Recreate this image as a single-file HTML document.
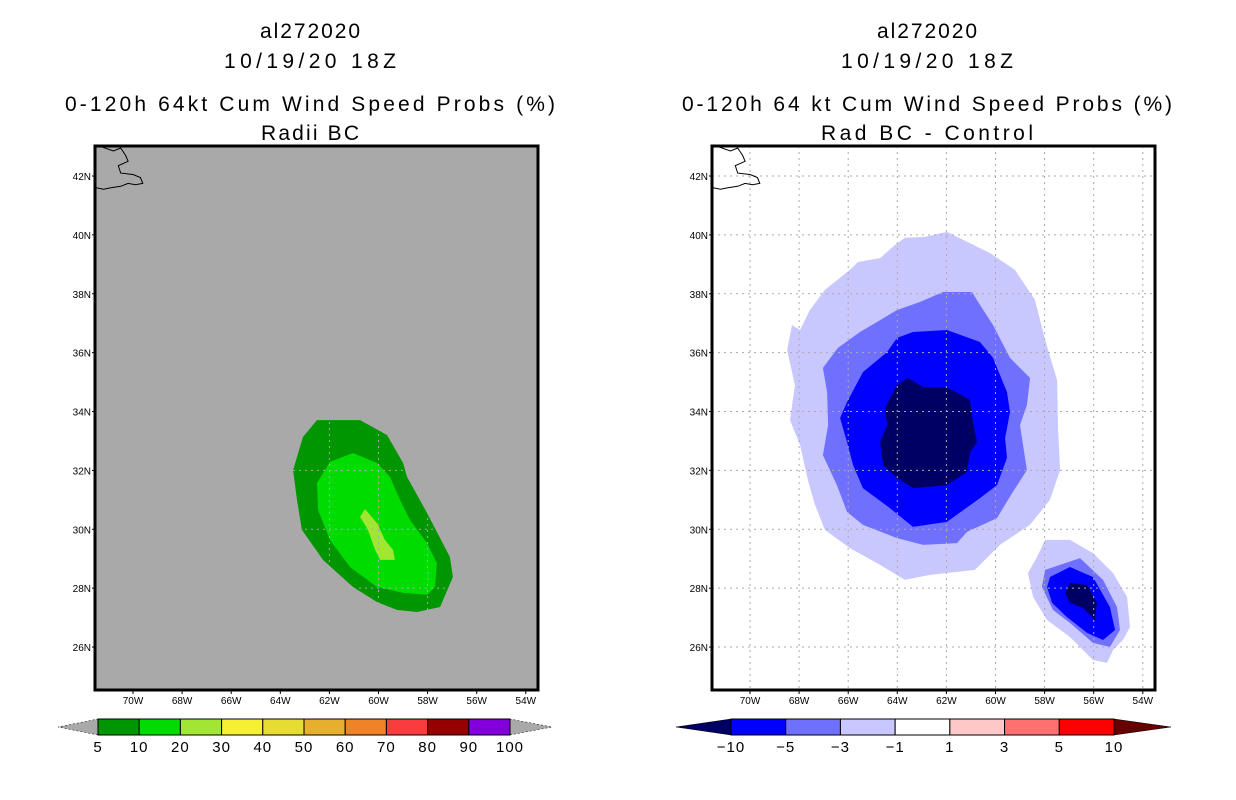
<!DOCTYPE html>
<html><head><meta charset="utf-8"><style>
html,body{margin:0;padding:0;background:#fff}
svg{display:block}
text{font-family:"Liberation Sans",sans-serif;fill:#000}
</style></head><body>
<svg id="chart" width="1236" height="800" viewBox="0 0 1236 800" xmlns="http://www.w3.org/2000/svg">
<rect width="1236" height="800" fill="#fff"/>
</svg>
<script>
// ---- data (lon in degrees W, lat in degrees N) ----
const lonTicks=[70,68,66,64,62,60,58,56,54];
const latTicks=[42,40,38,36,34,32,30,28,26];
const leftLevels=["5","10","20","30","40","50","60","70","80","90","100"];
const leftColors=["#009600","#00dc00","#a0e632","#f5f032","#e6dc32","#e6af2d","#f08228","#fa3c3c","#960000","#8200dc"];
const rightLevels=["-10","-5","-3","-1","1","3","5","10"];
const rightColors=["#0000ff","#7070ff","#c8c8ff","#ffffff","#ffc8c8","#ff7070","#ff0000"];
const green5Lon=[62.51,60.75,59.65,59.0,58.84,58.02,57.09,56.97,57.49,58.43,59.25,60.06,61.04,62.26,63.12,63.32,63.48,63.08];
const green5Lat=[33.71,33.71,33.20,32.25,31.78,30.55,29.06,28.38,27.36,27.19,27.26,27.53,28.04,28.96,29.98,30.99,32.01,33.13];
const green10Lon=[61.04,60.06,59.53,59.12,58.72,58.02,57.62,57.70,58.02,59.0,60.06,61.16,61.98,62.46,62.51,61.98];
const green10Lat=[32.59,32.25,31.78,30.99,30.32,29.53,28.85,28.04,27.77,27.84,28.04,28.72,29.64,30.65,31.57,32.29];
const green20Lon=[60.55,60.06,59.74,59.41,59.33,59.94,60.14,60.43,60.75];
const green20Lat=[30.69,30.21,29.64,29.30,28.96,28.96,29.30,29.98,30.42];
const diff1Lon=[61.98,60.22,59.21,58.39,57.98,57.49,57.45,57.37,57.78,58.6,59.82,60.84,62.67,63.69,64.7,65.93,66.95,67.35,67.64,67.96,68.37,68.17,68.49,68.29,67.96,67.56,66.95,65.93,65.6,64.7,64.09,63.69,62.87];
const diff1Lat=[40.10,39.38,38.81,37.79,36.43,35.07,33.37,32.01,31.0,30.15,29.47,28.62,28.45,28.28,28.79,29.36,29.98,30.82,31.67,32.86,33.71,34.9,36.09,36.94,36.77,37.45,38.13,38.81,39.08,39.21,39.66,39.90,39.93];
const diff3Lon=[62.14,60.96,60.63,60.10,59.41,58.59,58.72,59.0,58.72,59.29,59.94,61.16,61.57,62.95,64.01,65.40,66.05,66.46,67.03,66.82,66.86,67.03,66.42,65.52,64.01,63.08];
const diff3Lat=[38.06,38.06,37.62,36.94,35.82,35.14,34.22,33.54,32.01,31.27,30.38,29.91,29.53,29.47,29.70,30.15,30.59,31.50,32.52,33.54,34.66,35.48,36.16,36.70,37.45,37.72];
const diff5Lon=[63.36,61.98,60.63,60.10,59.53,59.41,59.61,59.53,59.94,60.63,61.98,63.36,64.30,65.40,65.80,66.05,66.33,66.05,65.40,64.42,64.01];
const diff5Lat=[36.70,36.77,36.36,35.82,34.66,33.98,33.10,32.42,31.50,31.06,30.25,30.08,30.72,31.40,32.18,32.96,33.78,34.32,35.34,36.02,36.50];
const diff10Lon=[63.56,62.95,61.98,61.04,60.92,60.75,61.04,61.16,61.98,63.36,64.01,64.58,64.70,64.42,64.50,64.01];
const diff10Lat=[35.14,34.83,34.83,34.39,33.64,32.96,32.62,31.95,31.50,31.40,31.74,32.18,32.96,33.54,34.12,34.90];
const sDiff1Lon=[57.98,56.97,56.03,55.21,54.64,54.52,54.81,55.21,55.46,56.03,56.97,57.90,58.47,58.68,58.31];
const sDiff1Lat=[29.64,29.64,29.19,28.51,27.70,26.68,26.24,25.90,25.46,25.56,26.34,26.92,27.70,28.51,29.06];
const sDiff3Lon=[57.98,56.56,55.62,55.05,54.93,55.34,56.03,56.97,57.66,58.11];
const sDiff3Lat=[28.62,29.02,28.28,27.36,26.58,26.0,26.14,26.82,27.26,28.04];
const sDiff5Lon=[57.78,56.97,56.03,55.34,55.13,55.62,56.27,57.09,57.70,57.90];
const sDiff5Lat=[28.38,28.72,28.38,27.36,26.58,26.24,26.48,27.02,27.50,28.04];
const sDiff10Lon=[56.97,56.27,55.87,55.95,56.44,56.97,57.17];
const sDiff10Lat=[28.18,28.11,27.50,26.92,27.33,27.50,27.84];

// ---- layout ----
const NS="http://www.w3.org/2000/svg";
const svg=document.getElementById('chart');
function mk(tag,attrs,parent){const e=document.createElementNS(NS,tag);for(const k in attrs)e.setAttribute(k,attrs[k]);(parent||svg).appendChild(e);return e;}
const PX_LON=24.55, PX_LAT=29.44;
function xScale(x0){return lon=>x0+(70-lon)*PX_LON;}
function yScale(lat){return 176+(42-lat)*PX_LAT;}
const coastLon=[71.3,70.8,70.5,70.3,70.2,70.6,70.5,70.0,69.7,69.6,69.9,70.2,70.5,70.9,71.2,71.5];
const coastLat=[43.0,42.85,42.95,42.7,42.5,42.35,42.1,42.05,41.95,41.75,41.7,41.75,41.65,41.6,41.55,41.6];

function panel(idx,x0,bg,titleLines,polys,levels,colors,cbBox,gridColor){
  const X=xScale(x0+38);
  const g=mk('g',{});
  
  
  const ty=[30,60,103,132];
  const tl=[100,172,490,98];
  titleLines.forEach((t,i)=>{
    const e=mk('text',{x:x0+215,y:ty[i]+8,'text-anchor':'middle','font-size':'21',textLength:(i===3&&idx===1)?212:tl[i],lengthAdjust:'spacing'},g);
    e.textContent=t;
    
    
  });
  const fx=x0, fw=443, fy=146, fh=544;
  const clip=mk('clipPath',{id:'clip'+idx},g);
  mk('rect',{x:fx,y:fy,width:fw,height:fh},clip);
  const bgR=mk('rect',{x:fx,y:fy,width:fw,height:fh,fill:bg},g);
  
  
  const cg=mk('g',{'clip-path':'url(#clip'+idx+')'},g);
  polys.forEach(p=>{
    const pts=p.lon.map((lo,i)=>X(lo).toFixed(1)+','+yScale(p.lat[i]).toFixed(1)).join(' ');
    const e=mk('polygon',{points:pts,fill:p.color},cg);
    
    
  });
  lonTicks.forEach(lo=>{
    const e=mk('line',{x1:X(lo),x2:X(lo),y1:fy,y2:fy+fh,stroke:gridColor,'stroke-width':1,'stroke-dasharray':'2,4'},cg);
    
    
  });
  latTicks.forEach(la=>{
    const e=mk('line',{x1:fx,x2:fx+fw,y1:yScale(la),y2:yScale(la),stroke:gridColor,'stroke-width':1,'stroke-dasharray':'2,4'},cg);
    
    
  });
  const cp=coastLon.map((lo,i)=>X(lo).toFixed(1)+','+yScale(coastLat[i]).toFixed(1)).join(' ');
  const coast=mk('polyline',{points:cp,fill:'none',stroke:'#000','stroke-width':1},cg);
  
  
  const fr=mk('rect',{x:fx,y:fy,width:fw,height:fh,fill:'none',stroke:'#000','stroke-width':3},g);
  
  
  lonTicks.forEach(lo=>{
    const t=mk('text',{x:X(lo),y:704,'text-anchor':'middle','font-size':'10'},g);
    t.textContent=lo+'W';
    
    
    mk('line',{x1:X(lo),x2:X(lo),y1:fy+fh,y2:fy+fh+4,stroke:'#000'},g);
  });
  latTicks.forEach(la=>{
    const t=mk('text',{x:fx-4,y:yScale(la)+4,'text-anchor':'end','font-size':'10'},g);
    t.textContent=la+'N';
    
    
    mk('line',{x1:fx-3,x2:fx,y1:yScale(la),y2:yScale(la),stroke:'#000'},g);
  });
  const cb=mk('g',{},g);
  
  
  const [bx0,bx1,lt,rt,lcol,rcol]=cbBox;
  const n=colors.length, bw=(bx1-bx0)/n, y0=719,y1=735;
  mk('polygon',{points:`${bx0},${y0} ${bx0},${y1} ${lt},${(y0+y1)/2}`,fill:lcol,stroke:'#000','stroke-width':0.5,'stroke-dasharray':idx===0?'2,2':''},cb);
  mk('polygon',{points:`${bx1},${y0} ${bx1},${y1} ${rt},${(y0+y1)/2}`,fill:rcol,stroke:'#000','stroke-width':0.5,'stroke-dasharray':idx===0?'2,2':''},cb);
  colors.forEach((c,i)=>{
    const r=mk('rect',{x:bx0+i*bw,y:y0,width:bw,height:y1-y0,fill:c,stroke:'#000','stroke-width':1},cb);
    
    
  });
  levels.forEach((l,i)=>{
    const t=mk('text',{x:bx0+i*bw,y:752,'text-anchor':'middle','font-size':'15','letter-spacing':'1'},cb);
    t.textContent=l.replace('-','\u2212');
    
    
  });
}

panel(0,95,'#a9a9a9',['al272020','10/19/20 18Z','0-120h 64kt Cum Wind Speed Probs (%)','Radii BC'],[
  {lon:green5Lon,lat:green5Lat,color:'#009600',name:'prob-5-10'},
  {lon:green10Lon,lat:green10Lat,color:'#00dc00',name:'prob-10-20'},
  {lon:green20Lon,lat:green20Lat,color:'#a0e632',name:'prob-20-30'}
],leftLevels,leftColors,[98,510,58,552,'#a9a9a9','#a9a9a9'],'#a9a9a9');

panel(1,712,'#ffffff',['al272020','10/19/20 18Z','0-120h 64 kt Cum Wind Speed Probs (%)','Rad BC - Control'],[
  {lon:diff1Lon,lat:diff1Lat,color:'#c8c8ff',name:'diff-neg1'},
  {lon:diff3Lon,lat:diff3Lat,color:'#7070ff',name:'diff-neg3'},
  {lon:diff5Lon,lat:diff5Lat,color:'#0000ff',name:'diff-neg5'},
  {lon:diff10Lon,lat:diff10Lat,color:'#000064',name:'diff-neg10'},
  {lon:sDiff1Lon,lat:sDiff1Lat,color:'#c8c8ff',name:'south-diff-neg1'},
  {lon:sDiff3Lon,lat:sDiff3Lat,color:'#7070ff',name:'south-diff-neg3'},
  {lon:sDiff5Lon,lat:sDiff5Lat,color:'#0000ff',name:'south-diff-neg5'},
  {lon:sDiff10Lon,lat:sDiff10Lat,color:'#000064',name:'south-diff-neg10'}
],rightLevels,rightColors,[731,1114,676,1171,'#000064','#640000'],'#aaaaaa');
</script>
</body></html>
